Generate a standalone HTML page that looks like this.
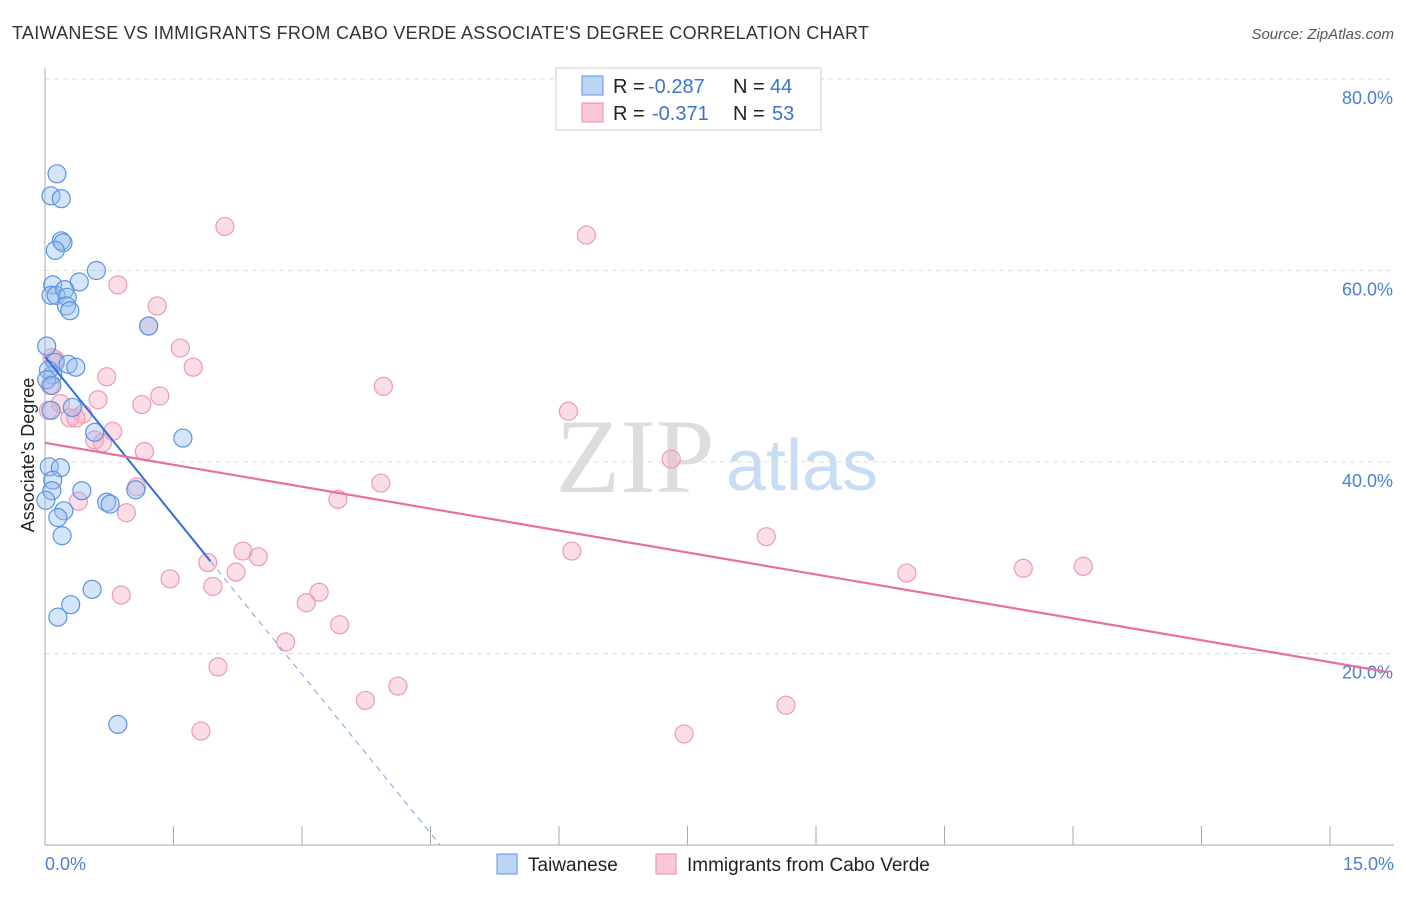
<!DOCTYPE html>
<html><head><meta charset="utf-8"><style>
body{margin:0;background:#fff;font-family:"Liberation Sans",sans-serif;}
</style></head><body>
<svg id="c" width="1406" height="892" xmlns="http://www.w3.org/2000/svg">
<text x="12" y="39" font-size="18" fill="#333" textLength="857">TAIWANESE VS IMMIGRANTS FROM CABO VERDE ASSOCIATE'S DEGREE CORRELATION CHART</text>
<text x="1394" y="39" font-size="15" fill="#555" font-style="italic" text-anchor="end">Source: ZipAtlas.com</text>
<g>
<text x="635" y="492" font-size="106" fill="#ddd" font-family="Liberation Serif,serif" text-anchor="middle">ZIP</text>
<text x="802" y="490" font-size="72" fill="#c8dcf3" text-anchor="middle">atlas</text>
</g>
<g id="grid"></g>
<line x1="45" y1="68" x2="45" y2="845" stroke="#aaa"/>
<line x1="45" y1="845" x2="1394" y2="845" stroke="#aaa"/>
<text x="34" y="455" font-size="18" fill="#222" text-anchor="middle" transform="rotate(-90 34 455)">Associate's Degree</text>
<text x="45" y="870" font-size="18" fill="#4a7fd6">0.0%</text>
<text x="1394" y="870" font-size="18" fill="#4a7fd6" text-anchor="end">15.0%</text>
<g id="pts"></g>
<g id="lines"></g>
<g>
<rect x="556" y="68" width="265" height="62" fill="#fff" stroke="#ccc"/>
<rect x="582" y="76" width="21" height="19" fill="#bcd5f5" stroke="#5b93e0"/>
<rect x="582" y="103" width="21" height="19" fill="#f9c8d7" stroke="#e88aa8"/>
<text x="613" y="93" font-size="20" fill="#222">R =</text>
<text x="648" y="93" font-size="20" fill="#3b73d1">-0.287</text>
<text x="733" y="93" font-size="20" fill="#222">N =</text>
<text x="770" y="93" font-size="20" fill="#3b73d1">44</text>
<text x="613" y="120" font-size="20" fill="#222">R =</text>
<text x="652" y="120" font-size="20" fill="#3b73d1">-0.371</text>
<text x="733" y="120" font-size="20" fill="#222">N =</text>
<text x="772" y="120" font-size="20" fill="#3b73d1">53</text>
</g>
<g>
<rect x="497" y="854" width="20" height="20" fill="#bcd5f5" stroke="#5b93e0"/>
<text x="528" y="871" font-size="19" fill="#222">Taiwanese</text>
<rect x="656" y="854" width="20" height="20" fill="#f9c8d7" stroke="#e88aa8"/>
<text x="687" y="871" font-size="19" fill="#222">Immigrants from Cabo Verde</text>
</g>
</svg>
<script>
const yTicks=[20,40,60,80];
const yTickLabels=["20.0%","40.0%","60.0%","80.0%"];
const xTicks=[0,1.5,3,4.5,6,7.5,9,10.5,12,13.5,15];
const blueX=[0.14,0.07,0.19,0.19,0.21,0.12,0.60,0.09,0.40,0.07,0.13,0.23,0.26,0.25,0.29,1.21,0.02,0.12,0.27,0.36,0.09,0.04,0.02,0.08,0.32,0.07,1.61,0.58,0.05,0.18,0.09,0.08,0.43,0.72,0.76,1.06,0.22,0.15,0.20,0.55,0.30,0.15,0.85,0.01];
const blueY=[70.1,67.8,67.5,63.1,62.9,62.1,60.0,58.5,58.8,57.4,57.4,58.0,57.2,56.3,55.8,54.2,52.1,50.4,50.2,49.9,49.1,49.6,48.6,48.0,45.7,45.4,42.5,43.1,39.5,39.4,38.1,37.0,37.0,35.8,35.6,37.1,34.9,34.2,32.3,26.7,25.1,23.8,12.6,36.0];
const pinkX=[2.10,6.32,0.85,1.31,1.21,1.58,1.73,0.12,0.72,3.95,0.62,1.13,1.34,0.18,0.04,0.44,0.29,0.79,0.58,0.67,1.16,6.11,7.31,3.42,3.92,0.39,0.95,1.07,6.15,8.42,2.31,2.49,1.90,2.23,1.46,1.96,0.89,3.20,3.05,10.06,11.42,12.12,3.44,2.81,2.02,4.12,3.74,8.65,1.82,7.46,0.06,0.08,0.36];
const pinkY=[64.6,63.7,58.5,56.3,54.2,51.9,49.9,50.7,48.9,47.9,46.5,46.0,46.9,46.1,45.4,45.0,44.6,43.2,42.3,42.0,41.1,45.3,40.3,36.1,37.8,35.9,34.7,37.4,30.7,32.2,30.7,30.1,29.5,28.5,27.8,27.0,26.1,26.4,25.3,28.4,28.9,29.1,23.0,21.2,18.6,16.6,15.1,14.6,11.9,11.6,48.0,50.9,44.6];
const blueTrend=[51.0,-11.06];
const pinkTrend=[42.0,-1.527];
const NS="http://www.w3.org/2000/svg";
const X=v=>45+v/15*1285, Y=v=>845-v*9.575;
function mk(tag,attrs,parent){const e=document.createElementNS(NS,tag);for(const k in attrs)e.setAttribute(k,attrs[k]);parent.appendChild(e);return e;}
const grid=document.getElementById('grid');
yTicks.forEach((t,i)=>{
 const l=mk('line',{x1:45,x2:1394,y1:Y(t),y2:Y(t),stroke:'#ddd','stroke-dasharray':'5,4'},grid);
 
 
 const tx=mk('text',{x:1393,y:Y(t)+25,'font-size':18,fill:'#4a7fd6','text-anchor':'end'},grid);
 tx.textContent=yTickLabels[i];
 
 
});
xTicks.forEach(t=>{
 const l=mk('line',{x1:X(t),x2:X(t),y1:826,y2:845,stroke:'#aaa'},grid);
 
 
});
const pts=document.getElementById('pts');
pinkX.forEach((x,i)=>{
 const c=mk('circle',{cx:X(x),cy:Y(pinkY[i]),r:9,fill:'rgba(246,170,196,0.4)',stroke:'#ec9ab5','stroke-width':1.2},pts);
 
 
});
blueX.forEach((x,i)=>{
 const c=mk('circle',{cx:X(x),cy:Y(blueY[i]),r:9,fill:'rgba(150,190,240,0.4)',stroke:'#5b93e0','stroke-width':1.2},pts);
 
 
});
const lines=document.getElementById('lines');
const f=(tr,x)=>tr[0]+tr[1]*x;
const xz=-blueTrend[0]/blueTrend[1];
let l1=mk('line',{x1:X(0),y1:Y(f(blueTrend,0)),x2:X(1.93),y2:Y(f(blueTrend,1.93)),stroke:'#2f6fd6','stroke-width':2},lines);


let l2=mk('line',{x1:X(1.93),y1:Y(f(blueTrend,1.93)),x2:X(xz),y2:Y(0),stroke:'#7aa3e0','stroke-width':1,'stroke-dasharray':'6,5'},lines);


let l3=mk('line',{x1:X(0),y1:Y(f(pinkTrend,0)),x2:X(15.68),y2:Y(f(pinkTrend,15.68)),stroke:'#e8709a','stroke-width':2.2},lines);


</script>
</body></html>
